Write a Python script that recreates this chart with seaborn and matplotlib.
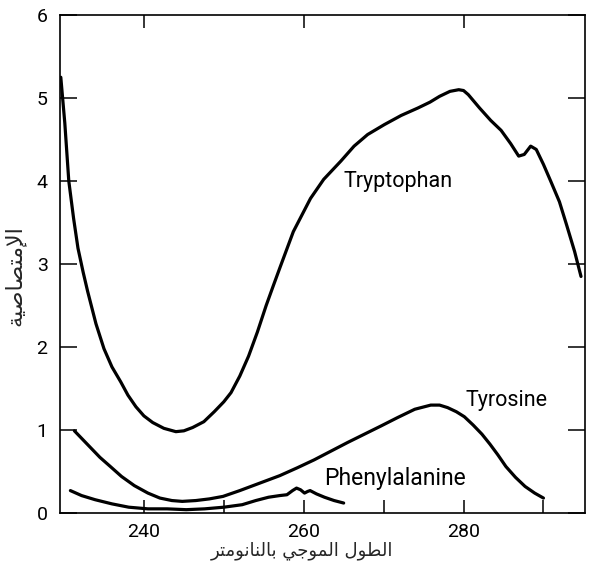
import matplotlib
matplotlib.use("Agg")
import matplotlib.pyplot as plt
import seaborn as sns
import pandas as pd
from matplotlib.ticker import FixedLocator

# ---------------- data ----------------
trp_nm = [229.6, 230.1, 230.6, 231.2, 231.75, 232.4, 232.96, 234.0, 235.0, 236.0,
          237.1, 238.0, 239.0, 240.0, 241.1, 242.5, 244.0, 245.0, 246.1, 247.5,
          248.8, 250.0, 250.9, 252.0, 253.1, 254.2, 255.3, 256.2, 257.0, 258.7,
          260.85, 262.5, 264.65, 266.3, 268.0, 270.1, 272.2, 274.3, 275.8, 277.0,
          278.3, 279.4, 280.0, 280.6, 282.0, 283.4, 284.7, 285.9, 286.9, 287.6,
          288.4, 289.1, 290.0, 290.9, 292.0, 292.9, 293.9, 294.7]
trp_abs = [5.25, 4.70, 4.00, 3.55, 3.19, 2.90, 2.67, 2.28, 1.98, 1.76,
           1.58, 1.42, 1.28, 1.17, 1.09, 1.02, 0.98, 0.99, 1.03, 1.10,
           1.22, 1.34, 1.45, 1.65, 1.89, 2.18, 2.50, 2.74, 2.95, 3.39,
           3.79, 4.02, 4.24, 4.42, 4.56, 4.68, 4.79, 4.88, 4.95, 5.02,
           5.08, 5.10, 5.09, 5.04, 4.88, 4.73, 4.61, 4.45, 4.30, 4.32,
           4.42, 4.38, 4.20, 4.00, 3.75, 3.47, 3.15, 2.85]

tyr_nm = [231.3, 232.2, 233.2, 234.5, 235.8, 237.2, 238.8, 240.5, 242.0, 243.5,
          244.8, 246.5, 248.2, 249.9, 252.0, 254.5, 257.0, 259.2, 261.3, 263.3,
          265.5, 267.6, 269.7, 271.75, 273.9, 275.9, 277.0, 278.0, 279.1, 280.1,
          281.2, 282.3, 283.3, 284.3, 285.3, 286.5, 287.7, 288.9, 290.0]
tyr_abs = [0.99, 0.90, 0.80, 0.67, 0.56, 0.44, 0.33, 0.24, 0.18, 0.15,
           0.14, 0.15, 0.17, 0.20, 0.27, 0.36, 0.45, 0.545, 0.64, 0.74,
           0.85, 0.95, 1.05, 1.15, 1.25, 1.30, 1.30, 1.27, 1.22, 1.16,
           1.06, 0.95, 0.83, 0.70, 0.56, 0.43, 0.32, 0.24, 0.18]

phe_nm = [230.8, 232.2, 233.9, 236.0, 238.1, 240.5, 242.9, 245.3, 247.6, 250.0,
          252.3, 254.0, 255.6, 257.0, 257.9, 258.6, 259.1, 259.6, 260.1, 260.5,
          260.8, 261.6, 262.6, 263.8, 265.0]
phe_abs = [0.27, 0.21, 0.16, 0.11, 0.07, 0.05, 0.05, 0.04, 0.05, 0.07,
           0.10, 0.15, 0.19, 0.21, 0.22, 0.27, 0.30, 0.28, 0.24, 0.26,
           0.27, 0.23, 0.19, 0.15, 0.12]

series_names = ["Tryptophan", "Tyrosine", "Phenylalanine"]
x_major = [240, 260, 280]
x_minor = [250, 270, 290]
y_ticks = [0, 1, 2, 3, 4, 5, 6]
XLABEL = "الطول الموجي بالنانومتر"
YLABEL = "الإمتصاصية"

# ---------------- Arabic shaping for display (matplotlib has no shaping) -----
FORMS = {
    'ا': ('\uFE8D', '\uFE8E', None, None),
    'إ': ('\uFE87', '\uFE88', None, None),
    'ل': ('\uFEDD', '\uFEDE', '\uFEDF', '\uFEE0'),
    'ط': ('\uFEC1', '\uFEC2', '\uFEC3', '\uFEC4'),
    'و': ('\uFEED', '\uFEEE', None, None),
    'م': ('\uFEE1', '\uFEE2', '\uFEE3', '\uFEE4'),
    'ج': ('\uFE9D', '\uFE9E', '\uFE9F', '\uFEA0'),
    'ي': ('\uFEF1', '\uFEF2', '\uFEF3', '\uFEF4'),
    'ب': ('\uFE8F', '\uFE90', '\uFE91', '\uFE92'),
    'ن': ('\uFEE5', '\uFEE6', '\uFEE7', '\uFEE8'),
    'ت': ('\uFE95', '\uFE96', '\uFE97', '\uFE98'),
    'ر': ('\uFEAD', '\uFEAE', None, None),
    'ص': ('\uFEB9', '\uFEBA', '\uFEBB', '\uFEBC'),
    'ة': ('\uFE93', '\uFE94', None, None),
}
LAMALEF = {'ا': ('\uFEFB', '\uFEFC'), 'إ': ('\uFEF9', '\uFEFA')}


def shape(s):
    toks = []
    i = 0
    while i < len(s):
        if s[i] == 'ل' and i + 1 < len(s) and s[i + 1] in LAMALEF:
            toks.append(('LA', s[i + 1]))
            i += 2
        else:
            toks.append(('C', s[i]))
            i += 1

    def dual(t):
        return t[0] == 'C' and t[1] in FORMS and FORMS[t[1]][2] is not None

    def letter(t):
        return t[0] == 'LA' or t[1] in FORMS

    out = []
    for k, t in enumerate(toks):
        prev = toks[k - 1] if k > 0 else None
        nxt = toks[k + 1] if k + 1 < len(toks) else None
        jp = prev is not None and dual(prev)
        if t[0] == 'LA':
            out.append(LAMALEF[t[1]][1 if jp else 0])
            continue
        c = t[1]
        if c not in FORMS:
            out.append(c)
            continue
        f = FORMS[c]
        jn = f[2] is not None and nxt is not None and letter(nxt)
        if jp and jn:
            out.append(f[3])
        elif jp:
            out.append(f[1])
        elif jn:
            out.append(f[2])
        else:
            out.append(f[0])
    return ''.join(reversed(out))


# ---------------- plotting ----------------
sns.set_style("ticks")
plt.rcParams['font.family'] = ['Roboto', 'DejaVu Sans']

df = pd.concat([
    pd.DataFrame({"nm": trp_nm, "A": trp_abs, "s": series_names[0]}),
    pd.DataFrame({"nm": tyr_nm, "A": tyr_abs, "s": series_names[1]}),
    pd.DataFrame({"nm": phe_nm, "A": phe_abs, "s": series_names[2]}),
])

fig = plt.figure(figsize=(5.92, 5.69), dpi=100)
ax = fig.add_axes([60 / 592, 1 - 513 / 569, 525 / 592, 498 / 569])

sns.lineplot(data=df, x="nm", y="A", units="s", estimator=None, sort=False,
             color="black", linewidth=2.3, ax=ax, legend=False)

ax.set_xlim(229.5, 295.2)
ax.set_ylim(0, 6)
ax.set_xlabel("")
ax.set_ylabel("")

ax.xaxis.set_major_locator(FixedLocator(x_major))
ax.xaxis.set_minor_locator(FixedLocator(x_minor))
ax.set_yticks(y_ticks)

for sp in ax.spines.values():
    sp.set_linewidth(1.2)
    sp.set_color("black")

ax.tick_params(axis="x", which="both", direction="in", length=9.5, width=1.1,
               top=True, bottom=True, labelsize=14, pad=7, colors="black")
ax.tick_params(axis="x", which="minor", top=False)
ax.tick_params(axis="y", which="both", direction="in", length=12, width=1.1,
               left=True, right=True, labelsize=14, pad=9, colors="black")

label_pos = {"Tryptophan": (265.0, 4.0), "Tyrosine": (280.2, 1.35),
             "Phenylalanine": (262.6, 0.41)}
label_size = {"Tryptophan": 15.5, "Tyrosine": 15.5, "Phenylalanine": 16.5}
for name in series_names:
    x, y = label_pos[name]
    ax.text(x, y, name, fontsize=label_size[name], ha="left", va="center",
            color="black")

fig.text(302 / 592, 1 - 551 / 569, shape(XLABEL), family=["DejaVu Sans"],
         fontsize=13, ha="center", va="center")
fig.text(15 / 592, 1 - 276 / 569, shape(YLABEL), family=["DejaVu Sans"],
         fontsize=16, ha="center", va="center", rotation=90)

fig.savefig("out.png", dpi=100)
